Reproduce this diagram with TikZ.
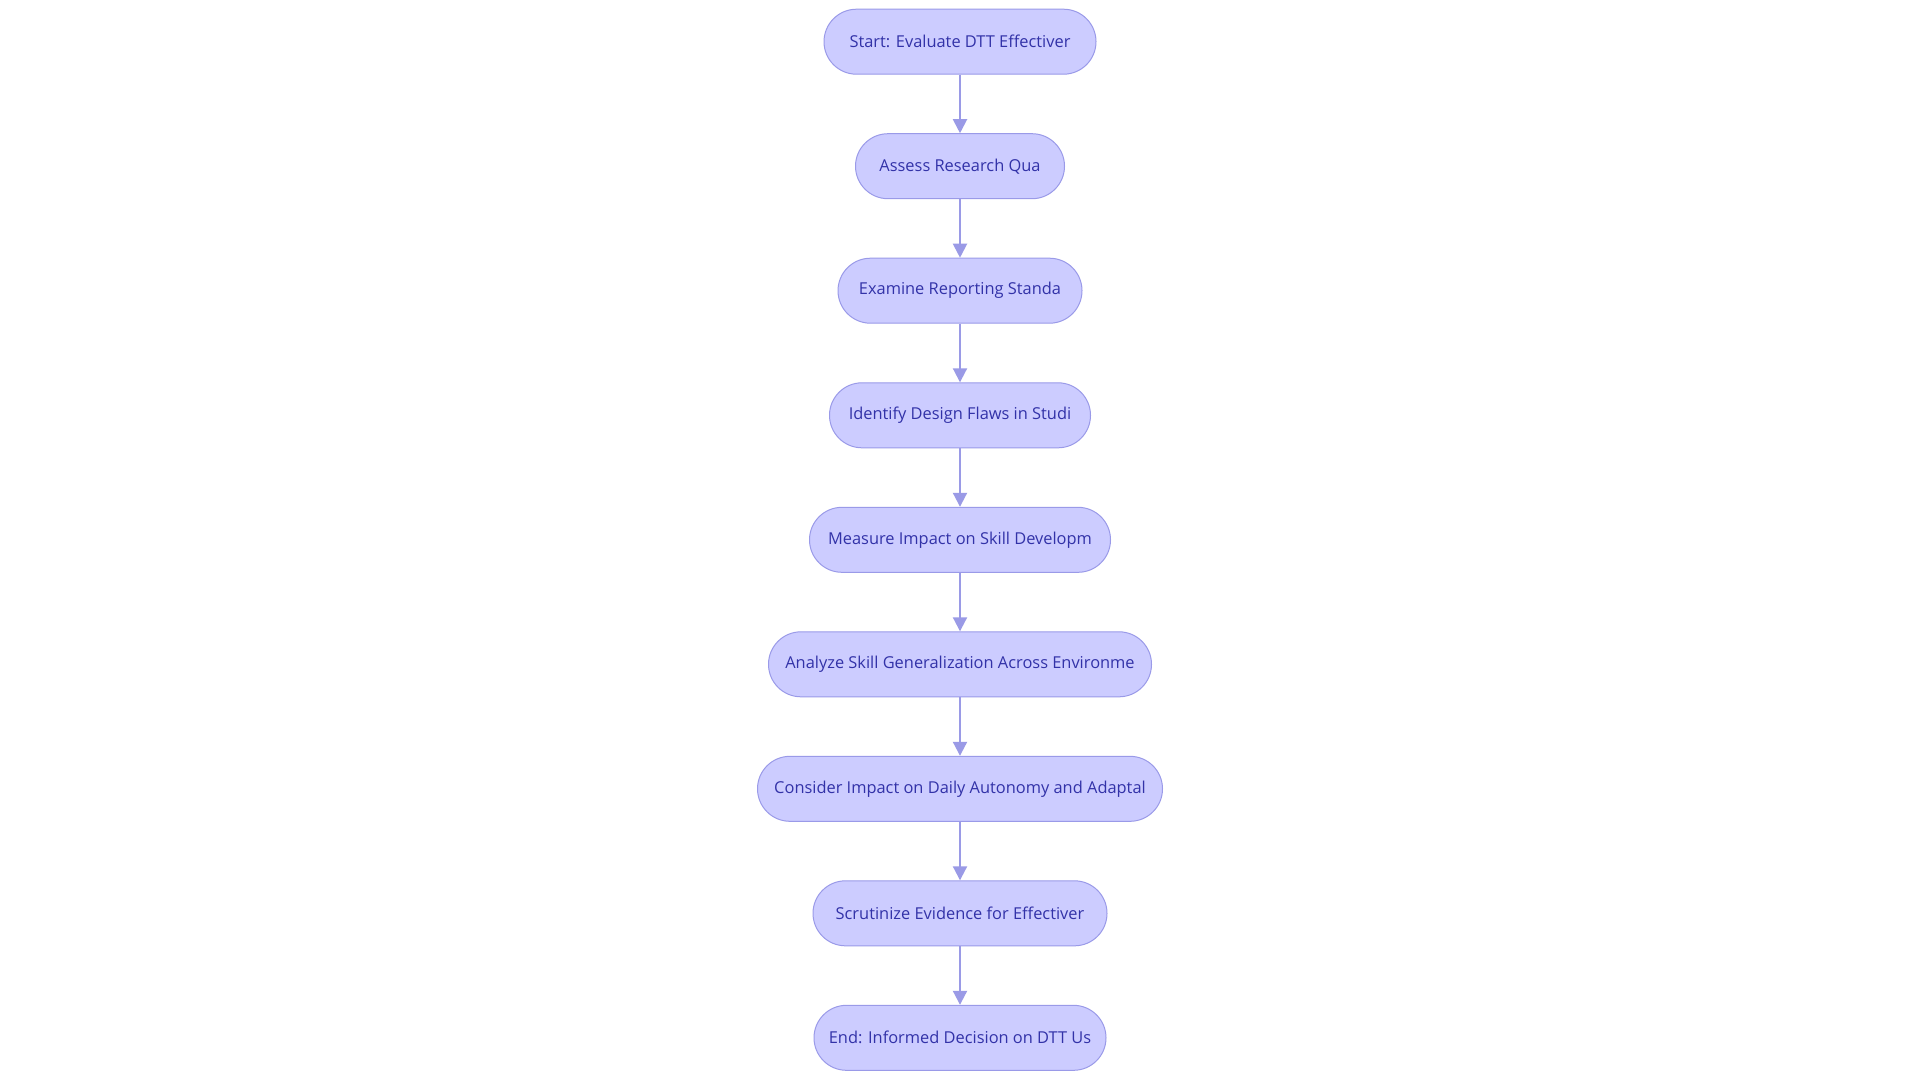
\documentclass[tikz,border=0pt]{standalone}
\usepackage{fontspec}
\setmainfont{Open Sans}
\usetikzlibrary{arrows.meta}
\definecolor{nodefill}{HTML}{CCCCFF}
\definecolor{nodeline}{HTML}{9A9AE8}
\definecolor{nodetext}{HTML}{3232A8}
\definecolor{edgecol}{HTML}{9A9AE6}
\tikzset{
  flowbox/.style={draw=nodeline, fill=nodefill, line width=1pt, rounded corners=32.5pt,
    minimum height=65pt, inner sep=0pt, text=nodetext, font=\fontsize{16.4pt}{19pt}\selectfont},
  flowarrow/.style={draw=edgecol, line width=2pt, -{Triangle[length=14pt,width=14pt]}}
}
\newcommand{\flowlabel}[1]{\raisebox{-2.2pt}{#1}}
\begin{document}
\begin{tikzpicture}[x=1pt,y=-1pt]
\useasboundingbox (0,0) rectangle (1920,1080);
\fill[white] (0,0) rectangle (1920,1080);
\node[flowbox, minimum width=272pt] (n1) at (960,41.7) {\flowlabel{Start: Evaluate DTT Effectiver}};
\node[flowbox, minimum width=209pt] (n2) at (960,166.2) {\flowlabel{Assess Research Qua}};
\node[flowbox, minimum width=244pt] (n3) at (960,290.7) {\flowlabel{Examine Reporting Standa}};
\node[flowbox, minimum width=261pt] (n4) at (960,415.3) {\flowlabel{Identify Design Flaws in Studi}};
\node[flowbox, minimum width=301pt] (n5) at (960,539.8) {\flowlabel{Measure Impact on Skill Developm}};
\node[flowbox, minimum width=383pt] (n6) at (960,664.3) {\flowlabel{Analyze Skill Generalization Across Environme}};
\node[flowbox, minimum width=405pt] (n7) at (960,788.8) {\flowlabel{Consider Impact on Daily Autonomy and Adaptal}};
\node[flowbox, minimum width=294pt] (n8) at (960,913.3) {\flowlabel{Scrutinize Evidence for Effectiver}};
\node[flowbox, minimum width=292pt] (n9) at (960,1037.8) {\flowlabel{End: Informed Decision on DTT Us}};
\draw[flowarrow] (n1) -- (n2);
\draw[flowarrow] (n2) -- (n3);
\draw[flowarrow] (n3) -- (n4);
\draw[flowarrow] (n4) -- (n5);
\draw[flowarrow] (n5) -- (n6);
\draw[flowarrow] (n6) -- (n7);
\draw[flowarrow] (n7) -- (n8);
\draw[flowarrow] (n8) -- (n9);
\end{tikzpicture}
\end{document}
